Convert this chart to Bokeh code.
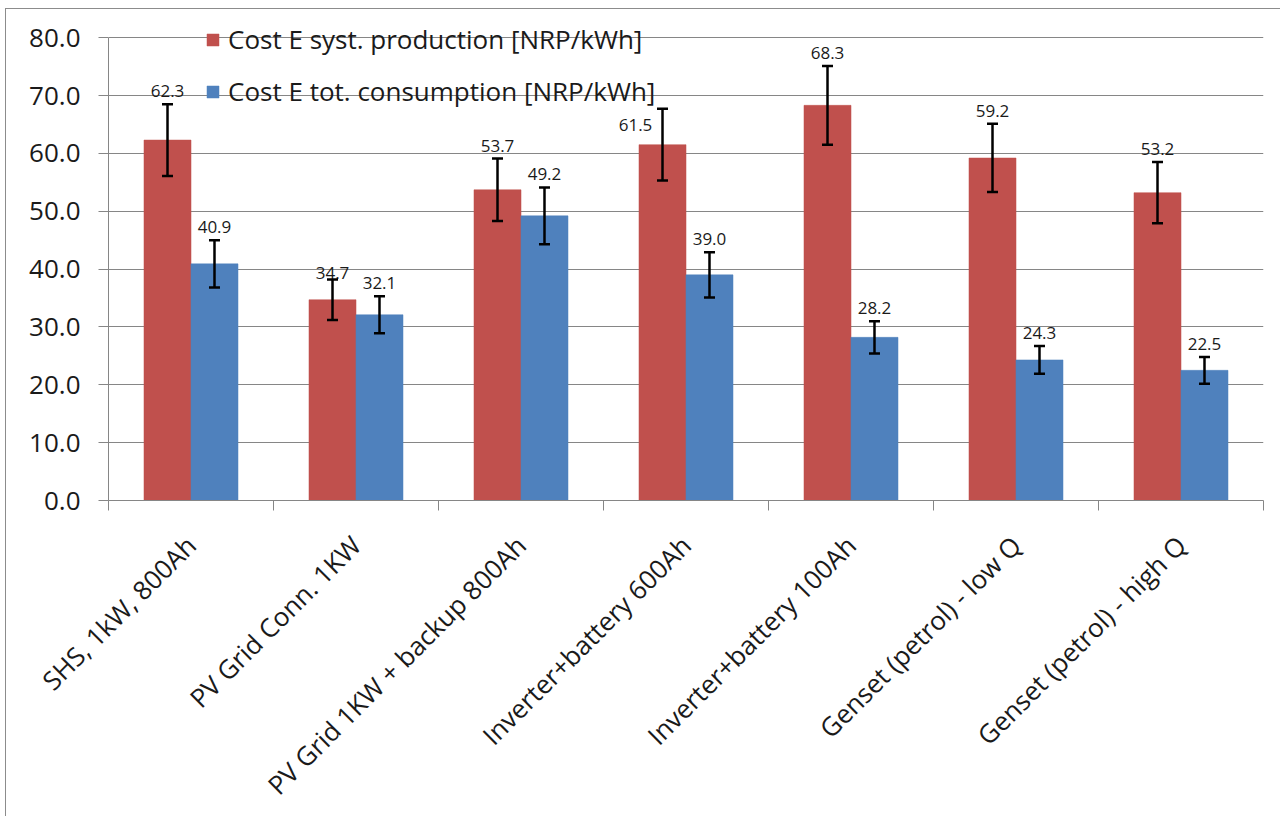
import math
from bokeh.plotting import figure
from bokeh.models import (ColumnDataSource, Whisker, TeeHead, FixedTicker, Range1d,
                          Legend, LegendItem, PrintfTickFormatter)
from bokeh.core.properties import value
from bokeh.embed import file_html
from bokeh.resources import INLINE

categories = ["SHS, 1kW, 800Ah", "PV Grid Conn. 1KW", "PV Grid 1KW + backup 800Ah",
              "Inverter+battery 600Ah", "Inverter+battery 100Ah",
              "Genset (petrol) - low Q", "Genset (petrol) - high Q"]
production = [62.3, 34.7, 53.7, 61.5, 68.3, 59.2, 53.2]
consumption = [40.9, 32.1, 49.2, 39.0, 28.2, 24.3, 22.5]
production_err = [6.2, 3.5, 5.4, 6.2, 6.8, 5.9, 5.3]
consumption_err = [4.1, 3.2, 4.9, 3.9, 2.8, 2.4, 2.3]
y_ticks = [0, 10, 20, 30, 40, 50, 60, 70, 80]
series_names = ["Cost E syst. production [NRP/kWh]", "Cost E tot. consumption [NRP/kWh]"]

RED = "#C0504D"
BLUE = "#4F81BD"
FONT = "Open Sans"
BAR_W = 0.285
OFF = 0.1424

n = len(categories)
# label placement tweaks for the production labels (x in pixels, y in axis units)
prod_label_dx = [0, 0, 0, -27, 0, 0, 0]
prod_label_nudge = [0, -1.2, 0, -5.0, 0, 0, 0]

# y range a little above the top tick so the legend (which overlaps the top gridline) is not clipped
p = figure(width=1275, height=808, output_backend="svg", toolbar_location=None,
           x_range=Range1d(0, n), y_range=Range1d(y_ticks[0], 84),
           min_border_left=102, min_border_top=5, min_border_right=18, min_border_bottom=314)
p.styles = {"border-left": "1px solid #8c8c8c", "border-top": "1px solid #8c8c8c",
            "margin-left": "5px", "margin-top": "8px"}
p.outline_line_color = None
p.background_fill_color = "white"
p.border_fill_color = "white"

def make_src(vals, errs, shift, dx=None, nudge=None):
    xs = [i + 0.5 + shift for i in range(len(vals))]
    dx = dx if dx is not None else [0] * len(vals)
    nudge = nudge if nudge is not None else [0] * len(vals)
    upper = [v + e for v, e in zip(vals, errs)]
    return ColumnDataSource(dict(
        x=xs, top=vals, upper=upper,
        lower=[v - e for v, e in zip(vals, errs)],
        label=["%.1f" % v for v in vals],
        lx=xs, ly=[u + d for u, d in zip(upper, nudge)], ldx=dx,
    ))

src_p = make_src(production, production_err, -OFF, prod_label_dx, prod_label_nudge)
src_c = make_src(consumption, consumption_err, OFF)

r_p = p.vbar(x="x", top="top", width=BAR_W, bottom=0, source=src_p,
             fill_color=RED, line_color=RED, line_width=0.5)
r_c = p.vbar(x="x", top="top", width=BAR_W, bottom=0, source=src_c,
             fill_color=BLUE, line_color=BLUE, line_width=0.5)

for src in (src_p, src_c):
    w = Whisker(source=src, base="x", upper="upper", lower="lower", level="overlay",
                line_color="black", line_width=2.5,
                upper_head=TeeHead(size=11, line_color="black", line_width=2.5),
                lower_head=TeeHead(size=11, line_color="black", line_width=2.5))
    p.add_layout(w)
    p.text(x="lx", y="ly", text="label", source=src, x_offset="ldx", y_offset=-13,
           text_align="center", text_baseline="middle", text_font=value(FONT),
           text_font_size="17px", text_color="#1a1a1a")

# axes
p.yaxis.ticker = FixedTicker(ticks=y_ticks)
p.yaxis.bounds = (y_ticks[0], y_ticks[-1])
p.yaxis.formatter = PrintfTickFormatter(format="%.1f")
p.yaxis.major_label_text_font = FONT
p.yaxis.major_label_text_font_size = "26px"
p.yaxis.major_label_text_color = "#1a1a1a"
p.yaxis.major_tick_out = 10
p.yaxis.major_tick_in = 0
p.yaxis.minor_tick_line_color = None
p.yaxis.major_label_standoff = 18
p.yaxis.axis_line_color = "#868686"
p.yaxis.major_tick_line_color = "#868686"

centers = [i + 0.5 for i in range(n)]
p.xaxis.ticker = FixedTicker(ticks=centers, minor_ticks=list(range(n + 1)))
p.xaxis.major_label_overrides = {c: lab for c, lab in zip(centers, categories)}
p.xaxis.major_label_orientation = math.pi / 4
p.xaxis.major_label_text_font = FONT
p.xaxis.major_label_text_font_size = "26px"
p.xaxis.major_label_text_color = "#1a1a1a"
p.xaxis.major_tick_line_color = None
p.xaxis.minor_tick_out = 10
p.xaxis.minor_tick_in = 0
p.xaxis.minor_tick_line_color = "#868686"
p.xaxis.axis_line_color = "#868686"
p.xaxis.major_label_standoff = 30

p.xgrid.grid_line_color = None
p.ygrid.ticker = FixedTicker(ticks=y_ticks)
p.ygrid.grid_line_color = "#868686"
p.ygrid.grid_line_width = 1

legend = Legend(items=[LegendItem(label=series_names[0], renderers=[r_p]),
                       LegendItem(label=series_names[1], renderers=[r_c])],
                location=(97, 391), orientation="vertical",
                background_fill_alpha=0, border_line_color=None,
                padding=0, margin=0, spacing=16,
                glyph_width=15, glyph_height=15, label_height=15,
                label_standoff=8, label_text_font=FONT, label_text_font_size="26px",
                label_text_color="#1a1a1a", label_text_baseline="middle")
p.add_layout(legend)

open("out.html", "w").write(file_html(p, INLINE))
